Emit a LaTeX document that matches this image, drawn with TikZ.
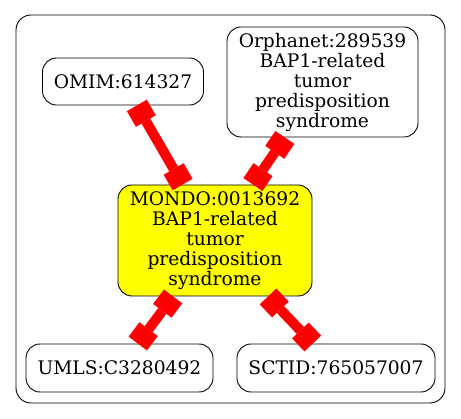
\documentclass[tikz,border=0pt]{standalone}
\usepackage{fontspec}
\setmainfont{DejaVu Serif}
\usetikzlibrary{arrows.meta}
\definecolor{nodeyellow}{RGB}{255,255,0}
\definecolor{linkred}{RGB}{255,0,0}
\begin{document}
\begin{tikzpicture}[x=1pt,y=-1pt,
  term/.style={draw=black, line width=0.9pt, rounded corners=14pt, align=center,
    font=\fontsize{18.67}{20}\selectfont, inner sep=0pt},
  boxtip/.tip={Square[length=18pt,width=23pt,line width=0pt]},
  link/.style={draw=linkred, fill=linkred, line width=10pt, boxtip-boxtip}]
\useasboundingbox (0,0) rectangle (461,419);
\draw[rounded corners=15pt, line width=0.9pt] (16,15) rectangle (445,403);
\node[term, minimum width=161pt, minimum height=47pt] (omim) at (123,81.5) {OMIM:614327};
\node[term, minimum width=191pt, minimum height=110pt] (orpha) at (322.5,82) {Orphanet:289539\\BAP1-related\\tumor\\predisposition\\syndrome};
\node[term, fill=nodeyellow, minimum width=194pt, minimum height=111pt] (mondo) at (215,240.5) {MONDO:0013692\\BAP1-related\\tumor\\predisposition\\syndrome};
\node[term, minimum width=187pt, minimum height=48pt] (umls) at (119.5,368) {UMLS:C3280492};
\node[term, minimum width=198pt, minimum height=48pt] (sctid) at (336,368) {SCTID:765057007};
\draw[link] (omim) -- (mondo);
\draw[link] (orpha) -- (mondo);
\draw[link] (mondo) -- (umls);
\draw[link] (mondo) -- (sctid);
\end{tikzpicture}
\end{document}
